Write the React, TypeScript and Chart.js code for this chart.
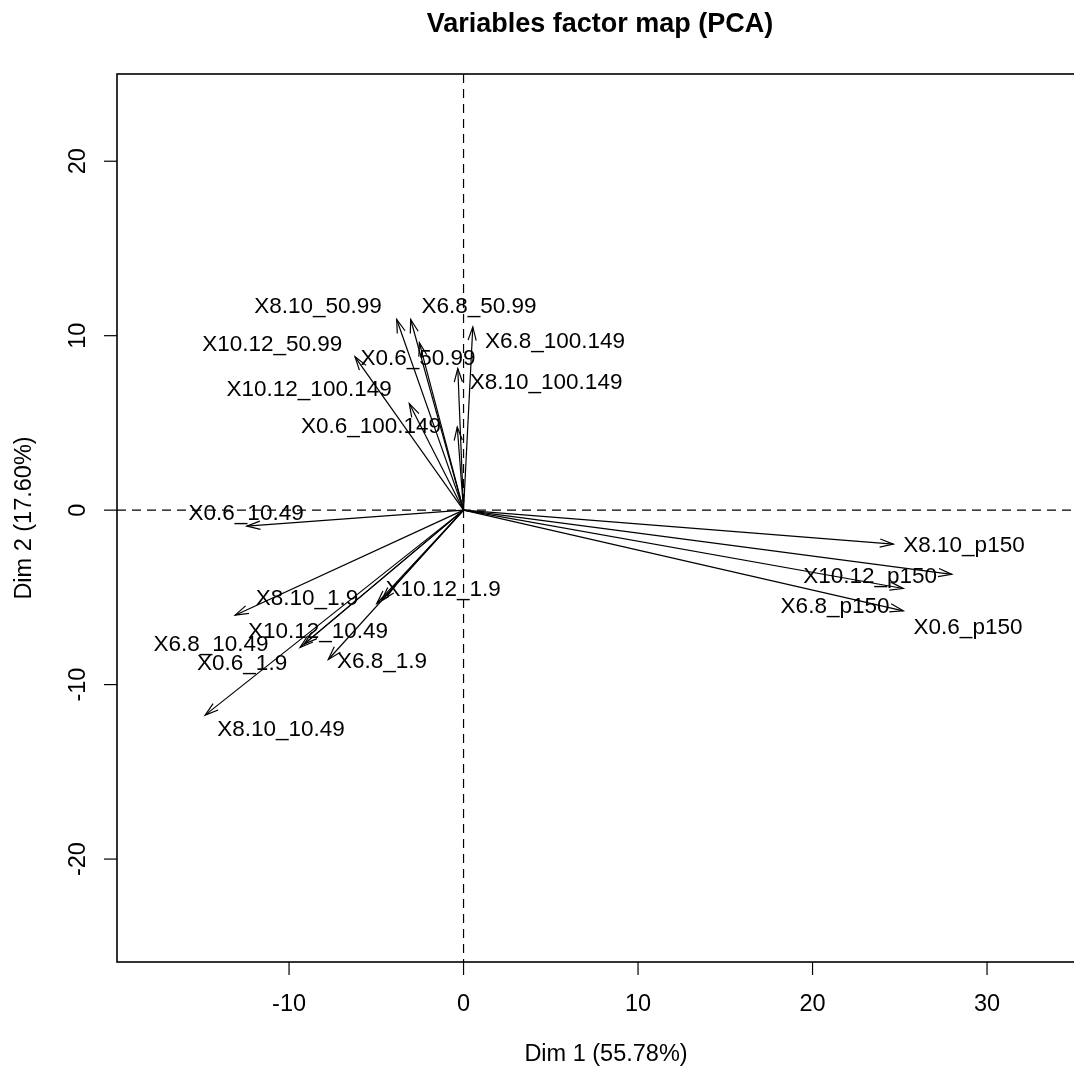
import React, { useEffect, useRef } from "react";
import { Chart, registerables } from "chart.js";

Chart.register(...registerables);

// Variable names (size class x count class)
const variableNames = [
  "X8.10_50.99",
  "X6.8_50.99",
  "X6.8_100.149",
  "X10.12_50.99",
  "X0.6_50.99",
  "X8.10_100.149",
  "X10.12_100.149",
  "X0.6_100.149",
  "X0.6_10.49",
  "X8.10_1.9",
  "X10.12_10.49",
  "X6.8_10.49",
  "X6.8_1.9",
  "X8.10_10.49",
  "X0.6_1.9",
  "X10.12_1.9",
  "X8.10_p150",
  "X10.12_p150",
  "X6.8_p150",
  "X0.6_p150",
];

// Coordinates of each variable on the first two dimensions
const dim1 = [
  -3.83, -3.03, 0.53, -6.22, -2.53, -0.33, -3.11, -0.36,
  -12.42, -13.09, -9.37, -9.14, -7.75, -14.81, -4.97, -4.69,
  24.63, 27.98, 25.2, 25.2,
];
const dim2 = [
  10.93, 10.93, 10.5, 8.79, 9.59, 8.12, 6.11, 4.77,
  -0.92, -6.02, -7.87, -7.68, -8.56, -11.75, -5.35, -5.16,
  -1.95, -3.68, -4.49, -5.77,
];

// Where each variable's name is written (repelled from the arrow tips)
const labelDim1 = [
  -8.34, 0.89, 5.24, -10.96, -2.61, 4.73, -8.85, -5.3,
  -12.46, -8.97, -8.34, -14.47, -4.67, -10.46, -12.69, -1.17,
  28.68, 23.3, 21.29, 28.91,
];
const labelDim2 = [
  11.75, 11.75, 9.74, 9.57, 8.77, 7.39, 6.99, 4.87,
  -0.11, -4.99, -6.88, -7.62, -8.6, -12.49, -8.71, -4.47,
  -1.95, -3.72, -5.44, -6.65,
];

const xTicks = [-10, 0, 10, 20, 30];
const yTicks = [-20, -10, 0, 10, 20];
const xRange = [-19.86, 35.5];
const yRange = [-25.9, 25.0];

const titleText = "Variables factor map (PCA)";
const xTitle = "Dim 1 (55.78%)";
const yTitle = "Dim 2 (17.60%)";

const FONT = '"Liberation Sans", Arial, sans-serif';

const pcaDecor = {
  id: "pcaDecor",
  beforeDatasetsDraw(chart: any) {
    const { ctx, chartArea: a, scales } = chart;
    const x0 = scales.x.getPixelForValue(0);
    const y0 = scales.y.getPixelForValue(0);
    ctx.save();
    ctx.strokeStyle = "#000";
    ctx.lineWidth = 1.2;
    ctx.setLineDash([9, 6]);
    ctx.beginPath();
    ctx.moveTo(x0, a.top);
    ctx.lineTo(x0, a.bottom);
    ctx.moveTo(a.left, y0);
    ctx.lineTo(a.right, y0);
    ctx.stroke();
    ctx.restore();
  },
  afterDatasetsDraw(chart: any) {
    const { ctx, chartArea: a, scales } = chart;
    const sx = scales.x;
    const sy = scales.y;
    ctx.save();

    // open arrowheads at each variable's tip
    ctx.strokeStyle = "#000";
    ctx.lineWidth = 1.2;
    const L = 14;
    const th = (17 * Math.PI) / 180;
    chart.data.datasets.forEach((_d: any, i: number) => {
      const meta = chart.getDatasetMeta(i);
      const p0 = meta.data[0];
      const p1 = meta.data[1];
      const ang = Math.atan2(p1.y - p0.y, p1.x - p0.x);
      ctx.beginPath();
      ctx.moveTo(p1.x - L * Math.cos(ang - th), p1.y - L * Math.sin(ang - th));
      ctx.lineTo(p1.x, p1.y);
      ctx.lineTo(p1.x - L * Math.cos(ang + th), p1.y - L * Math.sin(ang + th));
      ctx.stroke();
    });

    // variable names
    ctx.fillStyle = "#000";
    ctx.font = `22.5px ${FONT}`;
    ctx.textAlign = "center";
    ctx.textBaseline = "middle";
    variableNames.forEach((name, i) => {
      ctx.fillText(
        name,
        sx.getPixelForValue(labelDim1[i]),
        sy.getPixelForValue(labelDim2[i]) + 2
      );
    });

    // plot box
    ctx.lineWidth = 1.6;
    ctx.strokeRect(a.left, a.top, a.right - a.left, a.bottom - a.top);

    // tick marks and tick labels
    ctx.lineWidth = 1.2;
    ctx.font = `23.5px ${FONT}`;
    ctx.textBaseline = "alphabetic";
    ctx.textAlign = "center";
    xTicks.forEach((v) => {
      const px = sx.getPixelForValue(v);
      ctx.beginPath();
      ctx.moveTo(px, a.bottom);
      ctx.lineTo(px, a.bottom + 13);
      ctx.stroke();
      ctx.fillText(String(v), px, a.bottom + 49);
    });
    yTicks.forEach((v) => {
      const py = sy.getPixelForValue(v);
      ctx.beginPath();
      ctx.moveTo(a.left, py);
      ctx.lineTo(a.left - 13, py);
      ctx.stroke();
      ctx.save();
      ctx.translate(a.left - 32, py);
      ctx.rotate(-Math.PI / 2);
      ctx.fillText(String(v), 0, 0);
      ctx.restore();
    });

    // axis titles
    const cx = (a.left + a.right) / 2;
    const cy = (a.top + a.bottom) / 2;
    ctx.fillText(xTitle, cx + 6, a.bottom + 99);
    ctx.save();
    ctx.translate(31, cy);
    ctx.rotate(-Math.PI / 2);
    ctx.fillText(yTitle, 0, 0);
    ctx.restore();

    // main title
    ctx.font = `bold 27px ${FONT}`;
    ctx.fillText(titleText, cx, 32);

    ctx.restore();
  },
};

export default function App() {
  const canvasRef = useRef<HTMLCanvasElement | null>(null);

  useEffect(() => {
    const canvas = canvasRef.current;
    if (!canvas) return;
    const datasets = variableNames.map((name, i) => ({
      label: name,
      data: [
        { x: 0, y: 0 },
        { x: dim1[i], y: dim2[i] },
      ],
      showLine: true,
      borderColor: "#000",
      borderWidth: 1.2,
      pointRadius: 0,
      pointHoverRadius: 0,
      fill: false,
    }));
    const chart = new Chart(canvas, {
      type: "scatter",
      data: { datasets },
      options: {
        responsive: false,
        animation: false,
        devicePixelRatio: 1,
        events: [],
        layout: { padding: { left: 117, top: 74, right: 7, bottom: 109 } },
        plugins: {
          legend: { display: false },
          tooltip: { enabled: false },
          title: { display: false },
        },
        scales: {
          x: { type: "linear", display: false, min: xRange[0], max: xRange[1] },
          y: { type: "linear", display: false, min: yRange[0], max: yRange[1] },
        },
      },
      plugins: [pcaDecor],
    } as any);
    return () => chart.destroy();
  }, []);

  return (
    <div
      style={{
        position: "absolute",
        left: 0,
        top: 0,
        width: 1074,
        height: 1071,
        overflow: "hidden",
        background: "#fff",
      }}
    >
      <canvas ref={canvasRef} width={1090} height={1071} style={{ display: "block" }} />
    </div>
  );
}
